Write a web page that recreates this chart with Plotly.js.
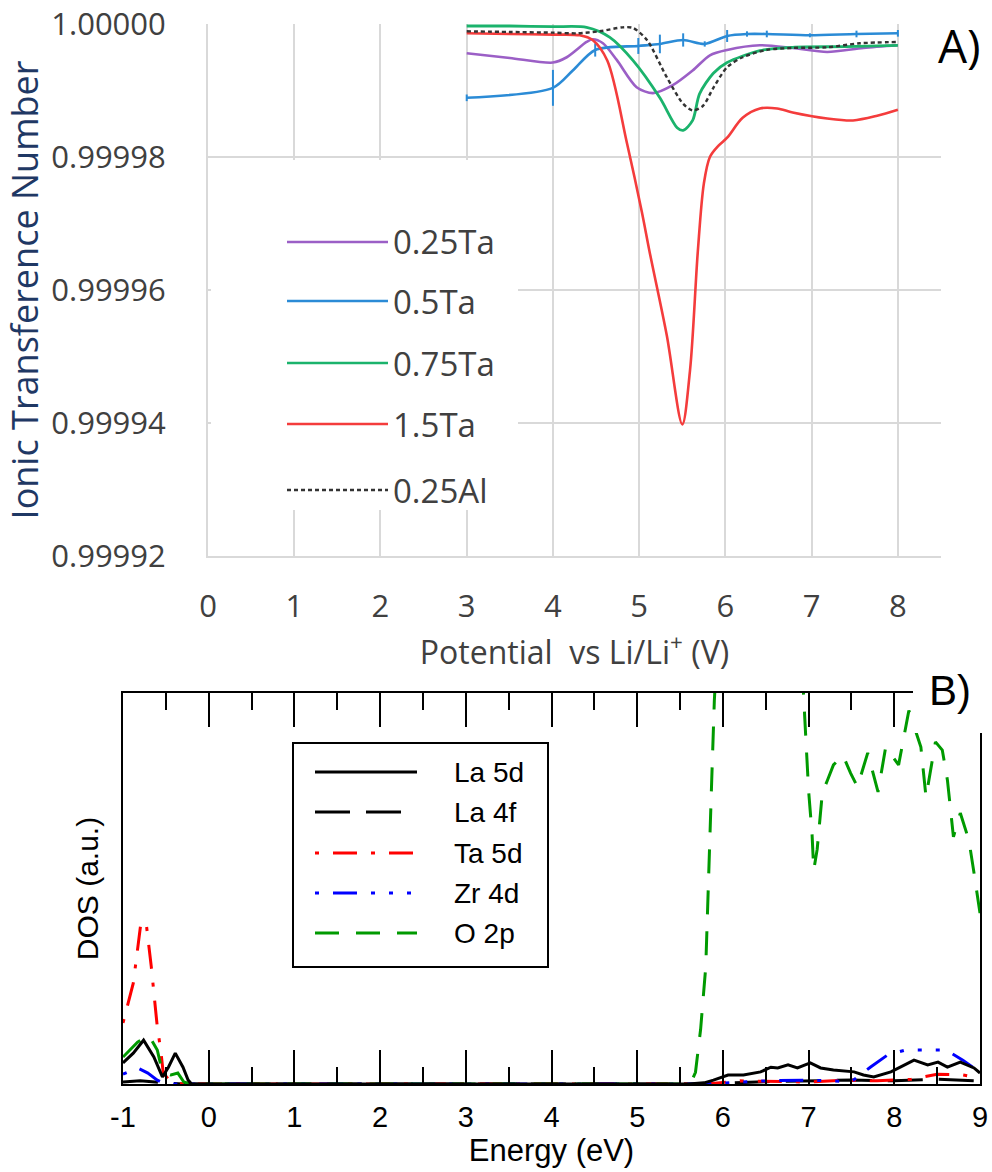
<!DOCTYPE html>
<html>
<head>
<meta charset="utf-8">
<script src="https://cdn.plot.ly/plotly-3.0.1.min.js"></script>
<style>html,body{margin:0;padding:0;background:#fff;}#chart{width:992px;height:1172px;}</style>
</head>
<body>
<div id="chart"></div>
<script>
// ---------- Panel A: Ionic transference number vs potential ----------
const seriesNamesA = ["0.25Ta", "0.5Ta", "0.75Ta", "1.5Ta", "0.25Al"];

const xPurple = [3.0, 3.5, 4.0, 4.16, 4.39, 4.46, 4.58, 4.74, 4.97, 5.16, 5.39, 5.62, 5.82, 6.02, 6.4, 6.78, 7.18, 7.6, 8.0];
const yPurple = [0.9999956, 0.9999949, 0.9999942, 0.9999950, 0.9999973, 0.9999977, 0.9999971, 0.9999946, 0.9999905, 0.9999896, 0.9999908, 0.9999930, 0.9999953, 0.9999961, 0.9999968, 0.9999964, 0.9999958, 0.9999964, 0.9999968];

const xBlue = [3.0, 4.0, 4.23, 4.49, 4.99, 5.24, 5.51, 5.76, 6.02, 6.25, 6.48, 6.98, 7.52, 8.0];
const yBlue = [0.9999889, 0.9999904, 0.9999930, 0.9999961, 0.9999967, 0.9999970, 0.9999976, 0.9999970, 0.9999982, 0.9999985, 0.9999985, 0.9999983, 0.9999985, 0.9999986];
const errBlue = [0.0000005, 0.0000027, 0.0, 0.0000010, 0.0000012, 0.0000014, 0.0000010, 0.0000004, 0.0000009, 0.0000004, 0.0000005, 0.0000003, 0.0000005, 0.0000005];

const xGreen = [3.0, 3.5, 4.0, 4.39, 4.66, 4.93, 5.24, 5.44, 5.51, 5.62, 5.70, 5.86, 6.02, 6.4, 6.78, 7.4, 8.0];
const yGreen = [0.9999997, 0.9999997, 0.9999996, 0.9999995, 0.9999980, 0.9999945, 0.9999889, 0.9999844, 0.9999840, 0.9999855, 0.9999895, 0.9999926, 0.9999942, 0.9999960, 0.9999965, 0.9999966, 0.9999968];

const xRed = [3.0, 3.5, 4.0, 4.31, 4.46, 4.63, 4.86, 5.03, 5.12, 5.32, 5.50, 5.59, 5.68, 5.75, 5.82, 5.92, 6.02, 6.2, 6.4, 6.6, 6.78, 7.18, 7.48, 7.76, 8.0];
const yRed = [0.9999986, 0.9999985, 0.9999984, 0.9999983, 0.9999976, 0.9999945, 0.9999820, 0.9999718, 0.9999658, 0.9999532, 0.9999398, 0.9999480, 0.9999658, 0.9999760, 0.9999800, 0.9999817, 0.9999829, 0.9999859, 0.9999873, 0.9999873, 0.9999867, 0.9999858, 0.9999855, 0.9999862, 0.9999871];

const xBlack = [3.0, 3.5, 4.0, 4.28, 4.54, 4.81, 4.93, 5.09, 5.32, 5.51, 5.62, 5.74, 5.86, 6.02, 6.2, 6.48, 6.78, 7.18, 7.56, 8.0];
const yBlack = [0.9999989, 0.9999988, 0.9999987, 0.9999986, 0.9999989, 0.9999995, 0.9999994, 0.9999976, 0.9999920, 0.9999880, 0.9999870, 0.9999877, 0.9999904, 0.9999935, 0.9999950, 0.9999961, 0.9999964, 0.9999965, 0.9999971, 0.9999973];

const xTickValsA = [0, 1, 2, 3, 4, 5, 6, 7, 8];
const yTickValsA = [0.99992, 0.99994, 0.99996, 0.99998, 1.00000];
const yTickTextA = ["0.99992", "0.99994", "0.99996", "0.99998", "1.00000"];

// ---------- Panel B: DOS ----------
const seriesNamesB = ["La 5d", "La 4f", "Ta 5d", "Zr 4d", "O 2p"];

const xLa5d = [-1.0, -0.88, -0.76, -0.64, -0.54, -0.47, -0.39, -0.30, -0.24, -0.2, 0, 5.6, 5.78, 5.89, 6.06, 6.24, 6.44, 6.56, 6.64, 6.76, 6.87, 7.02, 7.14, 7.29, 7.53, 7.64, 7.76, 7.96, 8.07, 8.23, 8.39, 8.51, 8.62, 8.77, 8.93, 9.0];
const yLa5d = [5.4, 7.9, 11.2, 6.9, 1.8, 4.3, 7.9, 4.3, 1.0, 0, 0, 0, 0.3, 1.0, 2.3, 2.3, 3.1, 4.3, 4.1, 4.9, 4.1, 5.4, 4.1, 3.6, 3.1, 2.3, 1.8, 3.1, 4.3, 6.1, 4.9, 5.6, 4.3, 5.6, 4.1, 2.8];

const xLa4f = [-1.0, -0.8, -0.5, -0.3, 0, 5.8, 6.5, 7.0, 7.5, 8.0, 8.5, 9.0];
const yLa4f = [0.5, 0.8, 0.3, 0, 0, 0, 0.6, 0.8, 1.0, 0.8, 1.2, 0.8];

const xTa5d = [-1.0, -0.88, -0.79, -0.73, -0.67, -0.6, -0.56, -0.53, -0.44, -0.3, 0, 5.8, 6.2, 6.6, 7.0, 7.4, 7.8, 8.2, 8.5, 8.8, 9.0];
const yTa5d = [15.6, 25.8, 41.4, 41.2, 30, 14.6, 8.7, 2.8, 0.5, 0, 0, 0, 0.8, 0.6, 0.5, 1.0, 0.8, 1.2, 2.5, 2.3, 1.5];

const xZr4d = [-1.0, -0.83, -0.71, -0.6, -0.5, 0, 5.8, 6.5, 7.0, 7.5, 7.72, 7.92, 8.13, 8.37, 8.6, 8.8, 8.97, 9.0];
const yZr4d = [2.5, 4.1, 2.8, 1.0, 0, 0, 0, 0.8, 1.0, 0.6, 4.3, 7.4, 8.7, 8.7, 8.7, 6.1, 3.6, 3.0];

const xO2p = [-1.0, -0.83, -0.70, -0.6, -0.54, -0.44, -0.36, -0.29, -0.21, 0, 5.62, 5.68, 5.74, 5.80, 5.84, 5.87, 5.90, 5.93, 6.0, 6.5, 6.85, 6.94, 6.98, 7.0, 7.04, 7.06, 7.1, 7.16, 7.22, 7.29, 7.40, 7.49, 7.57, 7.69, 7.81, 7.90, 8.05, 8.17, 8.31, 8.37, 8.48, 8.56, 8.62, 8.69, 8.77, 8.87, 8.93, 9.0];
const yO2p = [6.9, 10.7, 12.5, 8.7, 3.0, 2.3, 2.8, 0.5, 0, 0, 0, 3, 14, 30, 55, 78, 98, 115, 140, 150, 130, 100, 85, 75, 64, 54.7, 60, 74.4, 77.7, 81.6, 84.1, 79.5, 76, 84.7, 74.7, 86.2, 81.6, 95.5, 86.2, 73.4, 87.5, 85.4, 77.7, 63.2, 69.3, 62.4, 54, 43.7];

const xTickValsB = [-1, 0, 1, 2, 3, 4, 5, 6, 7, 8, 9];
const xTickTextB = ["-1", "0", "1", "2", "3", "4", "5", "6", "7", "8", "9"];

// ---------- styles ----------
const colA = {purple: "#9b5fc6", blue: "#2b8bd6", green: "#1bb36c", red: "#f43c3c", black: "#333333"};
const colB = {black: "#000000", red: "#ff0000", blue: "#0000ff", green: "#009a00"};
const FA = "'Open Sans', 'DejaVu Sans', sans-serif";
const FB = "'Liberation Sans', Arial, sans-serif";
const W = 992, H = 1172;
const px = v => v / W;
const py = v => 1 - v / H;

const traces = [
  {x: xPurple, y: yPurple, name: seriesNamesA[0], mode: "lines", line: {color: colA.purple, width: 2.6, shape: "spline", smoothing: 0.8}, xaxis: "x", yaxis: "y"},
  {x: xBlue, y: yBlue, name: seriesNamesA[1], mode: "lines", line: {color: colA.blue, width: 2.6, shape: "spline", smoothing: 0.8},
   error_y: {type: "data", array: errBlue, visible: true, color: colA.blue, thickness: 2, width: 0}, xaxis: "x", yaxis: "y"},
  {x: xGreen, y: yGreen, name: seriesNamesA[2], mode: "lines", line: {color: colA.green, width: 2.8, shape: "spline", smoothing: 0.8}, xaxis: "x", yaxis: "y"},
  {x: xRed, y: yRed, name: seriesNamesA[3], mode: "lines", line: {color: colA.red, width: 2.6, shape: "spline", smoothing: 0.9}, xaxis: "x", yaxis: "y"},
  {x: xBlack, y: yBlack, name: seriesNamesA[4], mode: "lines", line: {color: colA.black, width: 2.4, dash: "4px,3px", shape: "spline", smoothing: 0.8}, xaxis: "x", yaxis: "y"},

  {x: xLa4f, y: yLa4f, name: seriesNamesB[1], mode: "lines", line: {color: colB.black, width: 3, dash: "35px,16px"}, xaxis: "x2", yaxis: "y2"},
  {x: xTa5d, y: yTa5d, name: seriesNamesB[2], mode: "lines", line: {color: colB.red, width: 3, dash: "4px,14px,24px,14px"}, xaxis: "x2", yaxis: "y2"},
  {x: xZr4d, y: yZr4d, name: seriesNamesB[3], mode: "lines", line: {color: colB.blue, width: 3, dash: "4px,14px,24px,14px,4px,14px,4px,14px"}, xaxis: "x2", yaxis: "y2"},
  {x: xO2p, y: yO2p, name: seriesNamesB[4], mode: "lines", line: {color: colB.green, width: 3, dash: "24px,17px"}, xaxis: "x2", yaxis: "y2"},
  {x: xLa5d, y: yLa5d, name: seriesNamesB[0], mode: "lines", line: {color: colB.black, width: 3}, xaxis: "x2", yaxis: "y2"}
];

const shapes = [];
const annotations = [];

// Panel A legend (white panel, line samples, labels)
shapes.push({type: "rect", xref: "paper", yref: "paper", x0: px(211), x1: px(518), y0: py(510), y1: py(160), fillcolor: "#ffffff", line: {width: 0}, layer: "above"});
const legA = [
  {c: colA.purple, d: "solid", y: 242},
  {c: colA.blue, d: "solid", y: 301},
  {c: colA.green, d: "solid", y: 363},
  {c: colA.red, d: "solid", y: 424},
  {c: colA.black, d: "4px,3px", y: 490}
];
legA.forEach((it, i) => {
  shapes.push({type: "line", xref: "paper", yref: "paper", x0: px(287), x1: px(388), y0: py(it.y), y1: py(it.y), line: {color: it.c, width: 2.6, dash: it.d}, layer: "above"});
  annotations.push({xref: "paper", yref: "paper", x: px(391), y: py(it.y), xanchor: "left", yanchor: "middle", showarrow: false, text: seriesNamesA[i], font: {family: FA, size: 33, color: "#404040"}});
});
// "A)" label
shapes.push({type: "rect", xref: "paper", yref: "paper", x0: px(925), x1: px(992), y0: py(75), y1: py(0), fillcolor: "#ffffff", line: {width: 0}, layer: "above"});
annotations.push({xref: "paper", yref: "paper", x: px(959), y: py(45), xanchor: "center", yanchor: "middle", showarrow: false, text: "A)", font: {family: FA, size: 46, color: "#000000"}});

// Panel B legend box
shapes.push({type: "rect", xref: "paper", yref: "paper", x0: px(293), x1: px(548), y0: py(967), y1: py(743), fillcolor: "#ffffff", line: {color: "#000000", width: 2}, layer: "above"});
const legB = [
  {c: colB.black, d: "solid", y: 772},
  {c: colB.black, d: "35px,16px", y: 812},
  {c: colB.red, d: "4px,14px,24px,14px", y: 853},
  {c: colB.blue, d: "4px,14px,24px,14px,4px,14px,4px,14px", y: 893},
  {c: colB.green, d: "24px,17px", y: 933}
];
legB.forEach((it, i) => {
  shapes.push({type: "line", xref: "paper", yref: "paper", x0: px(315), x1: px(417), y0: py(it.y), y1: py(it.y), line: {color: it.c, width: 3, dash: it.d}, layer: "above"});
  annotations.push({xref: "paper", yref: "paper", x: px(452), y: py(it.y), xanchor: "left", yanchor: "middle", showarrow: false, text: seriesNamesB[i], font: {family: FB, size: 28, color: "#000000"}});
});
// "B)" label
shapes.push({type: "rect", xref: "paper", yref: "paper", x0: px(913), x1: px(992), y0: py(733), y1: py(655), fillcolor: "#ffffff", line: {width: 0}, layer: "above"});
annotations.push({xref: "paper", yref: "paper", x: px(950), y: py(690), xanchor: "center", yanchor: "middle", showarrow: false, text: "B)", font: {family: FB, size: 42, color: "#000000"}});

const layout = {
  width: W, height: H,
  margin: {l: 0, r: 0, t: 0, b: 0},
  paper_bgcolor: "#ffffff", plot_bgcolor: "#ffffff",
  showlegend: false,
  xaxis: {
    domain: [px(208), px(941)], range: [0, 8.5], anchor: "y",
    tickvals: xTickValsA, showgrid: true, gridcolor: "#d9d9d9", gridwidth: 2,
    zeroline: false, showline: true, linecolor: "#d9d9d9", linewidth: 2, ticks: "",
    ticklabelstandoff: 22, tickfont: {family: FA, size: 31, color: "#404040"},
    title: {text: "Potential\u00a0\u00a0vs Li/Li<sup>+</sup> (V)", font: {family: FA, size: 32, color: "#404040"}, standoff: 0}
  },
  yaxis: {
    domain: [py(556), py(24)], range: [0.99992 - 1e-11, 1.0 + 1e-11], anchor: "x",
    tickvals: yTickValsA, ticktext: yTickTextA, showgrid: true, gridcolor: "#d9d9d9", gridwidth: 2,
    zeroline: false, showline: true, linecolor: "#d9d9d9", linewidth: 2, ticks: "",
    ticklabelstandoff: 34, tickfont: {family: FA, size: 31, color: "#404040"},
    title: {text: "Ionic Transference Number", font: {family: FA, size: 36, color: "#1f3864"}, standoff: 2}
  },
  xaxis2: {
    domain: [px(123), px(980)], range: [-1, 9], anchor: "y2",
    tickvals: xTickValsB, ticktext: xTickTextB, showgrid: false, zeroline: false,
    showline: true, linecolor: "#000000", linewidth: 2, mirror: "ticks",
    ticks: "inside", ticklen: 34, tickwidth: 2, tickcolor: "#000000",
    minor: {dtick: 0.5, tick0: 0.5, ticks: "inside", ticklen: 17, tickwidth: 2, tickcolor: "#000000", showgrid: false},
    ticklabelstandoff: 6, tickfont: {family: FB, size: 29, color: "#000000"},
    title: {text: "Energy (eV)", font: {family: FB, size: 31, color: "#000000"}, standoff: 3}
  },
  yaxis2: {
    domain: [py(1084), py(693)], range: [0, 100], anchor: "x2",
    showgrid: false, zeroline: false, showline: true, linecolor: "#000000", linewidth: 2, mirror: true,
    ticks: "", showticklabels: false,
    title: {text: "DOS (a.u.)", font: {family: FB, size: 30, color: "#000000"}, standoff: 14}
  },
  shapes: shapes,
  annotations: annotations
};

Plotly.newPlot("chart", traces, layout, {staticPlot: true, displayModeBar: false});
</script>
</body>
</html>
